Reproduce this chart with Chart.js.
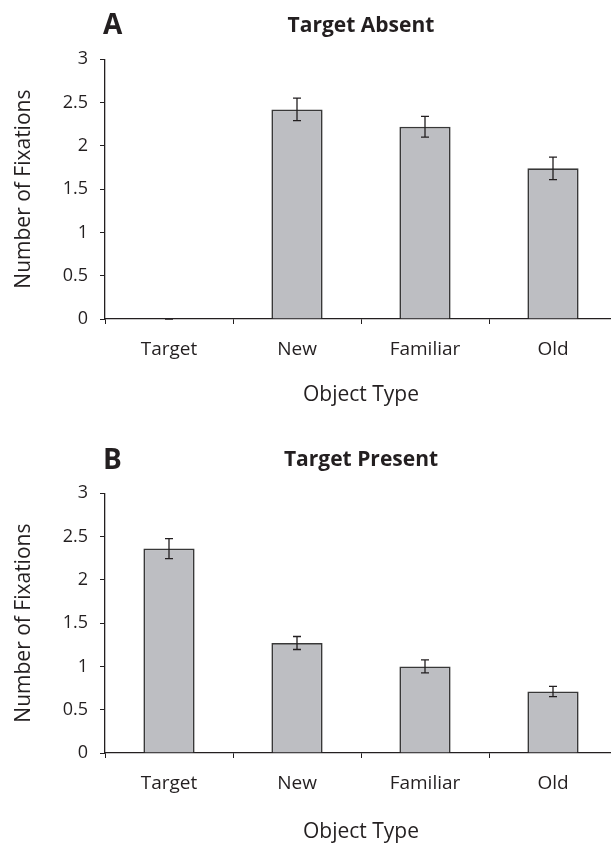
<!DOCTYPE html>
<html lang="en">
<head>
  <meta charset="utf-8" />
  <title>Number of Fixations by Object Type</title>
  <style>
html, body {
  margin: 0;
  padding: 0;
  background: #fff;
  width: 611px;
  height: 844px;
  overflow: hidden;
}
.panel {
  position: absolute;
  left: 0;
  width: 722px;
  height: 420px;
}
.letter {
  position: absolute;
  left: 103px;
  font: bold 28px/1 'Open Sans', sans-serif;
  color: #231f20;
}
  </style>
</head>
<body>
  <div class="panel" style="top:0px"><canvas id="chartAbsent"></canvas></div>
  <div class="panel" style="top:434px"><canvas id="chartPresent"></canvas></div>
  <div class="letter" style="top:9px">A</div>
  <div class="letter" style="top:444px">B</div>
  <script src="https://cdn.jsdelivr.net/npm/chart.js"></script>
  <script>

const categories = ['Target', 'New', 'Familiar', 'Old'];
const absentMeans = [0, 2.42, 2.22, 1.74];
const absentErrors = [0, 0.13, 0.12, 0.13];
const presentMeans = [2.36, 1.27, 1.00, 0.71];
const presentErrors = [0.115, 0.075, 0.075, 0.06];
const yTicks = [0, 0.5, 1, 1.5, 2, 2.5, 3];

const INK = '#231f20';
Chart.defaults.font.family = "'Open Sans', sans-serif";
Chart.defaults.color = INK;

// draws the +/- error whiskers on top of each bar
const errorBars = {
  id: 'errorBars',
  afterDatasetsDraw(chart, args, opts) {
    const ctx = chart.ctx;
    const yScale = chart.scales.y;
    const meta = chart.getDatasetMeta(0);
    const vals = chart.data.datasets[0].data;
    ctx.save();
    ctx.strokeStyle = INK;
    ctx.lineWidth = 1.3;
    meta.data.forEach((bar, i) => {
      const e = opts.errors[i];
      const x = bar.x;
      const top = yScale.getPixelForValue(vals[i] + e);
      const bot = yScale.getPixelForValue(vals[i] - e);
      ctx.beginPath();
      ctx.moveTo(x, top); ctx.lineTo(x, bot);
      ctx.moveTo(x - 4, top); ctx.lineTo(x + 4, top);
      ctx.moveTo(x - 4, bot); ctx.lineTo(x + 4, bot);
      ctx.stroke();
    });
    ctx.restore();
  }
};

function makeChart(id, title, means, errors, xTitleBottom) {
  return new Chart(document.getElementById(id), {
    type: 'bar',
    data: {
      labels: categories,
      datasets: [{
        data: means,
        backgroundColor: '#bdbec2',
        borderColor: '#383838',
        borderWidth: 1.7,
        barPercentage: 0.4,
        categoryPercentage: 1
      }]
    },
    options: {
      responsive: true,
      maintainAspectRatio: false,
      animation: false,
      layout: { padding: { left: 0, right: 105, top: 0, bottom: 0 } },
      scales: {
        x: {
          grid: { display: true, drawOnChartArea: false, offset: true, tickLength: 5, color: INK, lineWidth: 1 },
          border: { display: true, color: INK, width: 1.3 },
          ticks: { font: { size: 19 }, padding: 14, color: INK },
          title: { display: true, text: 'Object Type', font: { size: 21 }, padding: { top: 0, bottom: xTitleBottom }, color: INK },
          afterFit: (scale) => { scale.height = 101; }
        },
        y: {
          min: 0,
          max: 3,
          afterBuildTicks: (scale) => { scale.ticks = yTicks.map(v => ({ value: v })); },
          grid: { display: true, drawOnChartArea: false, tickLength: 5, color: INK, lineWidth: 1 },
          border: { display: true, color: INK, width: 1.3 },
          ticks: { font: { size: 18 }, padding: 12, color: INK, callback: (v) => String(v) },
          title: { display: true, text: 'Number of Fixations', font: { size: 21 }, padding: { top: 11, bottom: 0 }, color: INK },
          afterFit: (scale) => { scale.width = 105; }
        }
      },
      plugins: {
        legend: { display: false },
        tooltip: { enabled: false },
        title: {
          display: true,
          fullSize: false,
          text: title,
          font: { size: 21, weight: 'bold' },
          color: INK,
          padding: { top: 13, bottom: 21 }
        },
        errorBars: { errors: errors }
      }
    },
    plugins: [errorBars]
  });
}

makeChart('chartAbsent', 'Target Absent', absentMeans, absentErrors, 12);
makeChart('chartPresent', 'Target Present', presentMeans, presentErrors, 9);
  </script>
</body>
</html>
